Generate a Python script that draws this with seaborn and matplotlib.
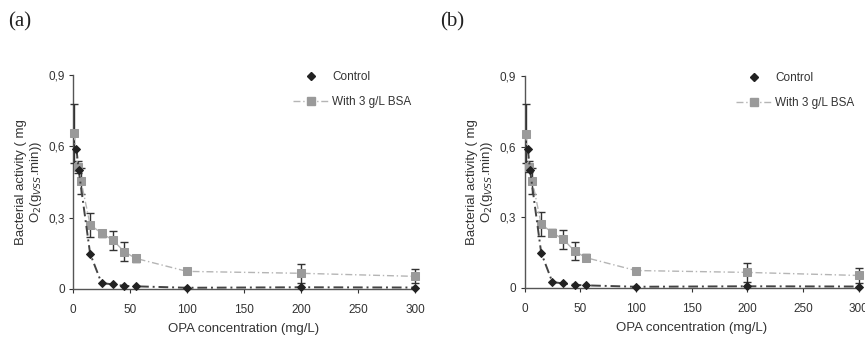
import numpy as np
import pandas as pd
import seaborn as sns
import matplotlib
matplotlib.use("Agg")
import matplotlib.pyplot as plt
from matplotlib.lines import Line2D

# Values (both panels show the same curves)
bsa_x = [1, 4, 7, 15, 25, 35, 45, 55, 100, 200, 300]
bsa_y = [0.655, 0.515, 0.455, 0.27, 0.234, 0.205, 0.156, 0.128, 0.073, 0.065, 0.052]
bsa_err = [0.125, 0.025, 0.055, 0.05, 0.015, 0.04, 0.04, 0.015, 0.008, 0.04, 0.03]

ctrl_x = [3, 5, 15, 25, 35, 45, 55, 100, 200, 300]
ctrl_y = [0.59, 0.50, 0.148, 0.024, 0.018, 0.012, 0.010, 0.004, 0.006, 0.005]

x_ticks = [0, 50, 100, 150, 200, 250, 300]
y_ticks = [0, 0.3, 0.6, 0.9]
y_ticklabels = ["0", "0,3", "0,6", "0,9"]
panel_labels = ["(a)", "(b)"]

sns.set_style("white")
plt.rcParams['font.family'] = ['Liberation Sans', 'DejaVu Sans']

fig = plt.figure(figsize=(8.65, 3.38), dpi=100)
# axes boxes in figure fractions (left, bottom, width, height)
boxes = [(73 / 865, 1 - 288.7 / 338, 342 / 865, 213.4 / 338),
         (524.5 / 865, 1 - 287.7 / 338, 334 / 865, 211.7 / 338)]
label_pos = [(8 / 865, 1 - 22 / 338), (440 / 865, 1 - 22 / 338)]

bsa = pd.DataFrame({"x": bsa_x, "y": bsa_y})
ctrl = pd.DataFrame({"x": ctrl_x, "y": ctrl_y})
dashdot = (0, (5, 2, 1, 2))

for box, lab, lp in zip(boxes, panel_labels, label_pos):
    ax = fig.add_axes(box)
    ax.errorbar(bsa_x, bsa_y, yerr=bsa_err, fmt="none", ecolor="#333333",
                elinewidth=1.0, capsize=3, capthick=1.0, clip_on=False, zorder=3)
    sns.lineplot(data=bsa, x="x", y="y", ax=ax, color="#b5b5b5", lw=1.0,
                 linestyle=dashdot, marker="s", markersize=5.5,
                 markerfacecolor="#9a9a9a", markeredgecolor="#9a9a9a",
                 clip_on=False, zorder=4)
    sns.lineplot(data=ctrl, x="x", y="y", ax=ax, color="#444444", lw=1.4,
                 linestyle=dashdot, marker="D", markersize=4,
                 markerfacecolor="#222222", markeredgecolor="#222222",
                 clip_on=False, zorder=5)

    ax.set_xlim(0, 300)
    ax.set_ylim(0, 0.9)
    ax.set_xticks(x_ticks)
    ax.set_yticks(y_ticks)
    ax.set_yticklabels(y_ticklabels)
    ax.tick_params(axis="both", labelsize=8.5, colors="#333333", length=3,
                   width=0.8, direction="out", left=True, bottom=True, pad=3)
    ax.tick_params(axis="x", pad=8)
    sns.despine(ax=ax)
    for s in ["left", "bottom"]:
        ax.spines[s].set_color("#555555")
        ax.spines[s].set_linewidth(1.0)
    ax.set_xlabel("OPA concentration (mg/L)", fontsize=9.5, color="#333333", labelpad=5)
    ax.set_ylabel("Bacterial activity ( mg\nO$_2$(g$_{VSS}$.min))", fontsize=9.5,
                  color="#333333", labelpad=3, linespacing=1.1)

    handles = [Line2D([], [], color="#222222", marker="D", markersize=4, lw=0),
               Line2D([], [], color="#b5b5b5", lw=1.0, linestyle=dashdot,
                      marker="s", markersize=5.5, markerfacecolor="#9a9a9a",
                      markeredgecolor="#9a9a9a")]
    ax.legend(handles, ["Control", "With 3 g/L BSA"], loc="upper right",
              bbox_to_anchor=(1.02, 1.07), frameon=False, fontsize=8.5,
              handlelength=3.0, handletextpad=0.3, labelspacing=1.1,
              labelcolor="#333333")

    fig.text(lp[0], lp[1], lab, fontsize=15, family="Liberation Serif",
             color="#222222", va="center", ha="left")

fig.savefig("out.png", dpi=100, facecolor="white")
